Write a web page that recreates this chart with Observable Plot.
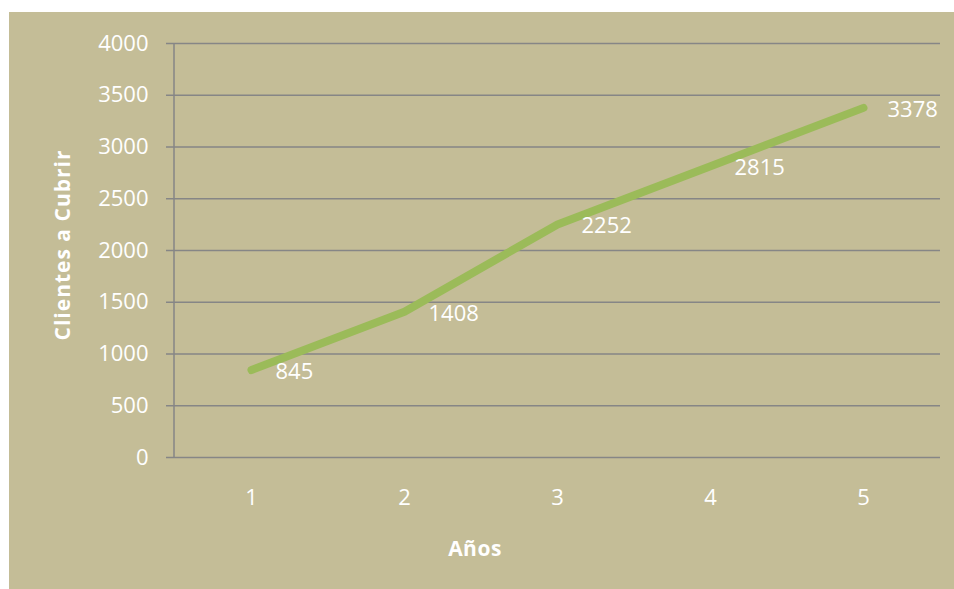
<!DOCTYPE html>
<html>
<head>
<meta charset="utf-8">
<script src="https://cdn.jsdelivr.net/npm/d3@7"></script>
<script src="https://cdn.jsdelivr.net/npm/@observablehq/plot@0.6"></script>
<style>
  html, body { margin: 0; padding: 0; background: #ffffff; }
  #wrap { position: absolute; left: 9px; top: 12px; width: 945px; height: 577px; background: #C4BD97; font-family: "Open Sans", Lato, sans-serif; }
  #chart svg { display: block; }
  .ttl { position: absolute; color: #ffffff; font-weight: bold; font-size: 21px; white-space: nowrap; }
  #xt { left: 466px; top: 522px; transform: translateX(-50%); letter-spacing: 0.5px; }
  #yt { left: 53px; top: 233px; transform: translate(-50%, -50%) rotate(-90deg); letter-spacing: 1px; }
</style>
</head>
<body>
<div id="wrap">
  <div id="chart"></div>
  <div class="ttl" id="xt">Años</div>
  <div class="ttl" id="yt">Clientes a Cubrir</div>
</div>
<script>
const years = [1, 2, 3, 4, 5];
const clientes = [845, 1408, 2252, 2815, 3378];
const yTicks = [0, 500, 1000, 1500, 2000, 2500, 3000, 3500, 4000];

const data = years.map((y, i) => ({ year: y, value: clientes[i] }));
const gridColor = "#868686";

const spine = (index, scales, values, dimensions) => {
  const g = d3.create("svg:g");
  g.append("line")
    .attr("x1", dimensions.marginLeft).attr("x2", dimensions.marginLeft)
    .attr("y1", scales.y(0)).attr("y2", scales.y(4000))
    .attr("stroke", gridColor).attr("stroke-width", 1.5);
  return g.node();
};

const chart = Plot.plot({
  width: 945,
  height: 577,
  marginLeft: 165,
  marginRight: 14,
  marginTop: 31,
  marginBottom: 132,
  style: { background: "transparent", fontFamily: "'Open Sans', Lato, sans-serif", color: "#ffffff" },
  x: { type: "point", domain: years, padding: 0.5 },
  y: { domain: [0, 4000] },
  marks: [
    Plot.ruleY(yTicks, { stroke: gridColor, strokeWidth: 1.5 }),
    Plot.axisY(yTicks, { tickSize: 8, tickPadding: 18, tickFormat: d => String(d), stroke: gridColor, strokeWidth: 1.5, fill: "#ffffff", fontSize: 22, label: null }),
    Plot.axisX(years, { tickSize: 0, tickPadding: 32, tickFormat: d => String(d), fill: "#ffffff", fontSize: 22, label: null }),
    spine,
    Plot.line(data, { x: "year", y: "value", stroke: "#9BBB59", strokeWidth: 8, strokeLinecap: "round", strokeLinejoin: "round" }),
    Plot.text(data, { x: "year", y: "value", text: d => String(d.value), dx: 24, dy: 2, textAnchor: "start", fill: "#ffffff", fontSize: 22 })
  ]
});
document.getElementById("chart").appendChild(chart);
</script>
</body>
</html>
